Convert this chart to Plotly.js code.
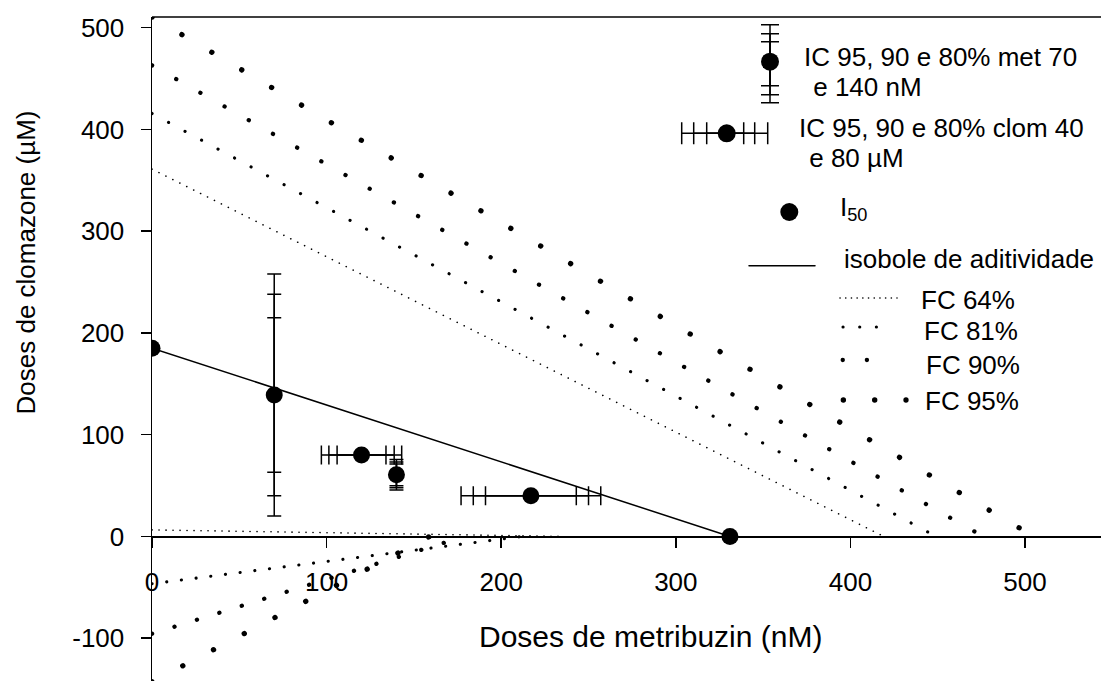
<!DOCTYPE html>
<html><head><meta charset="utf-8">
<script src="https://cdn.plot.ly/plotly-3.0.1.min.js"></script>
<style>
html,body{margin:0;padding:0;background:#fff;}
#chart{width:1101px;height:681px;}
.scatterlayer path.js-line{stroke-linecap:round;}
</style></head><body><div id="chart"></div>
<script>
// ---- data ----
const i50X = [0, 70, 120, 140, 217, 331];
const i50Y = [185, 139, 80, 60.5, 40, 0];
const isoX = [0, 331];
const isoY = [185, 0];
// metribuzin CI (vertical bars)
const metX = [70, 140];
const metY = [139, 60.5];
const metCI95 = [119, 15];
const metCI90 = [99, 12.7];
const metCI80 = [76, 10.7];
// clomazone CI (horizontal bars)
const clomX = [120, 217];
const clomY = [80, 40];
const clomCI95 = [23, 40];
const clomCI90 = [18.7, 33];
const clomCI80 = [14, 26];
// FC lines: upper and lower branches
const fc64UpX = [0, 419], fc64UpY = [361, 0];
const fc64LoX = [0, 235], fc64LoY = [6.4, 0];
const fc81UpX = [0, 449], fc81UpY = [415.7, 0];
const fc81LoX = [0, 212], fc81LoY = [-46.5, 0];
const fc90UpX = [0, 476], fc90UpY = [463, 0];
const fc90LoX = [0, 179], fc90LoY = [-95.6, 0];
const fc95UpX = [0, 505], fc95UpY = [510.5, 0];
const fc95LoX = [0, 159], fc95LoY = [-143, 0];
// axes
const xRange = [0, 543.5];
const yRange = [-142.1, 510.5];
const xTicks = [0, 100, 200, 300, 400, 500];
const yTicks = [-100, 0, 100, 200, 300, 400, 500];
const legendLabels = ["IC 95, 90 e 80% met 70", " e 140 nM", "IC 95, 90 e 80% clom 40", " e 80 µM",
  "I<sub>50</sub>", "isobole de aditividade", "FC 64%", "FC 81%", "FC 90%", "FC 95%"];

// ---- style / layout constants ----
const FONT = "Liberation Sans, Arial, sans-serif";
const K = "#000";
const W = 1101, H = 681, ML = 152, MT = 17;

function fcLine(x, y, w, period) {
  return {x: x, y: y, mode: "lines", type: "scatter", hoverinfo: "skip", showlegend: false,
    line: {color: K, width: w, dash: "0.1px," + (period - 0.1).toFixed(2) + "px"}};
}
function ciTrace(xs, ys, dir, plus, minus, cap, xa, ya, msize) {
  const t = {x: xs, y: ys, mode: "markers", type: "scatter", hoverinfo: "skip", showlegend: false,
    xaxis: xa, yaxis: ya,
    marker: msize ? {size: msize, color: K} : {size: 1, color: "rgba(0,0,0,0)"}};
  const e = {type: "data", symmetric: minus == null, array: plus, color: K, thickness: 1.5, width: cap, visible: true};
  if (minus != null) e.arrayminus = minus;
  t[dir === "y" ? "error_y" : "error_x"] = e;
  return t;
}

const traces = [
  fcLine(fc64UpX, fc64UpY, 1.6, 7.76),
  fcLine(fc64LoX, fc64LoY, 1.6, 7.0),
  fcLine(fc81UpX, fc81UpY, 3.1, 18.75),
  fcLine(fc81LoX, fc81LoY, 3.1, 14.8),
  fcLine(fc90UpX, fc90UpY, 4.3, 27.8),
  fcLine(fc90LoX, fc90LoY, 4.3, 23.5),
  fcLine(fc95UpX, fc95UpY, 5.3, 34.7),
  fcLine(fc95LoX, fc95LoY, 5.3, 34.7),
  {x: isoX, y: isoY, mode: "lines", type: "scatter", hoverinfo: "skip", showlegend: false,
   line: {color: K, width: 1.5}},
  ciTrace(metX, metY, "y", metCI95, null, 7, "x", "y"),
  ciTrace(metX, metY, "y", metCI90, null, 7, "x", "y"),
  ciTrace(metX, metY, "y", metCI80, null, 7, "x", "y"),
  ciTrace(clomX, clomY, "x", clomCI95, null, 9.5, "x", "y"),
  ciTrace(clomX, clomY, "x", clomCI90, null, 9.5, "x", "y"),
  ciTrace(clomX, clomY, "x", clomCI80, null, 9.5, "x", "y"),
  {x: i50X, y: i50Y, mode: "markers", type: "scatter", hoverinfo: "skip", showlegend: false,
   marker: {size: 17, color: K}}
];

// ---- hand-drawn legend (helper axes in pixel units) ----
const L = {
  met: {x: 770, y: 61.7, up: [37, 28, 20], down: [41, 33, 24], cap: 9, ms: 18},
  clom: {x: 726.7, y: 133.3, left: [45, 33, 20], right: [41, 28, 17], cap: 11, ms: 18},
  dot: {x: 789.3, y: 212, ms: 18},
  iso: {x0: 749, x1: 815, y: 265.7},
  f64: {x0: 840, x1: 897, y: 298, w: 1.6, p: 5.7},
  f81: {x0: 843, x1: 893, y: 327, w: 3.1, p: 16.67},
  f90: {x0: 842.7, x1: 891, y: 360, w: 4.3, p: 24.15},
  f95: {x0: 843.3, x1: 906, y: 400, w: 5.3, p: 31.35},
  text: [[801.7, 57.2], [804, 86.7], [796.7, 127.8], [800, 157.8], [838.3, 208],
         [841.7, 259], [919.3, 299.5], [921.7, 330.5], [924.3, 364.5], [923.3, 401]]
};
for (let i = 0; i < 3; i++) {
  traces.push(ciTrace([L.met.x], [L.met.y], "y", [L.met.down[i]], [L.met.up[i]], L.met.cap, "x2", "y2", i === 0 ? L.met.ms : 0));
  traces.push(ciTrace([L.clom.x], [L.clom.y], "x", [L.clom.right[i]], [L.clom.left[i]], L.clom.cap, "x2", "y2", i === 0 ? L.clom.ms : 0));
}
traces.push({x: [L.dot.x], y: [L.dot.y], xaxis: "x2", yaxis: "y2", mode: "markers", type: "scatter",
  hoverinfo: "skip", showlegend: false, marker: {size: L.dot.ms, color: K}});
traces.push({x: [L.iso.x0, L.iso.x1], y: [L.iso.y, L.iso.y], xaxis: "x2", yaxis: "y2", mode: "lines",
  type: "scatter", hoverinfo: "skip", showlegend: false, line: {color: K, width: 1.5}});
["f64", "f81", "f90", "f95"].forEach(k => {
  const s = L[k];
  const t = fcLine([s.x0, s.x1], [s.y, s.y], s.w, s.p);
  t.xaxis = "x2"; t.yaxis = "y2";
  traces.push(t);
});

const annotations = legendLabels.map((txt, i) => ({
  text: txt, xref: "x2", yref: "y2", x: L.text[i][0], y: L.text[i][1],
  xanchor: "left", yanchor: "middle", showarrow: false,
  font: {family: FONT, size: 26, color: K}
}));
// axis titles
annotations.push({text: "Doses de metribuzin (nM)", xref: "paper", yref: "paper",
  x: (650 - ML) / (W - ML), y: (H - 636) / (H - MT), xanchor: "center", yanchor: "middle",
  showarrow: false, font: {family: FONT, size: 30, color: K}});
annotations.push({text: "Doses de clomazone (µM)", xref: "paper", yref: "paper",
  x: (25 - ML) / (W - ML), y: (H - 262.5) / (H - MT), xanchor: "center", yanchor: "middle",
  textangle: -90, showarrow: false, font: {family: FONT, size: 26, color: K}});

const tickFont = {family: FONT, size: 26, color: K};
const layout = {
  width: W, height: H,
  margin: {l: ML, r: 0, t: MT, b: 0, pad: 0},
  paper_bgcolor: "#fff", plot_bgcolor: "#fff",
  showlegend: false,
  xaxis: {range: xRange, anchor: "free", position: (0 - yRange[0]) / (yRange[1] - yRange[0]),
    showline: true, linecolor: K, linewidth: 1.5, ticks: "outside", ticklen: 10, tickwidth: 1.5,
    tickcolor: K, tickvals: xTicks, ticktext: xTicks.map(String), tickfont: tickFont,
    showgrid: false, zeroline: false, automargin: false, ticklabelstandoff: 12, fixedrange: true},
  yaxis: {range: yRange, showline: true, linecolor: K, linewidth: 1.5, ticks: "outside", ticklen: 10,
    tickwidth: 1.5, tickcolor: K, tickvals: yTicks, ticktext: yTicks.map(String), tickfont: tickFont,
    showgrid: false, zeroline: false, automargin: false, ticklabelstandoff: 11, fixedrange: true},
  xaxis2: {overlaying: "x", anchor: "y2", range: [ML, W], visible: false, fixedrange: true},
  yaxis2: {overlaying: "y", anchor: "x2", range: [H, MT], visible: false, fixedrange: true},
  shapes: [{type: "line", xref: "paper", yref: "paper", x0: 0, x1: 1, y0: 1, y1: 1,
    line: {color: K, width: 1.5}, layer: "above"}],
  annotations: annotations
};
Plotly.newPlot("chart", traces, layout, {staticPlot: true, displayModeBar: false});
</script></body></html>
